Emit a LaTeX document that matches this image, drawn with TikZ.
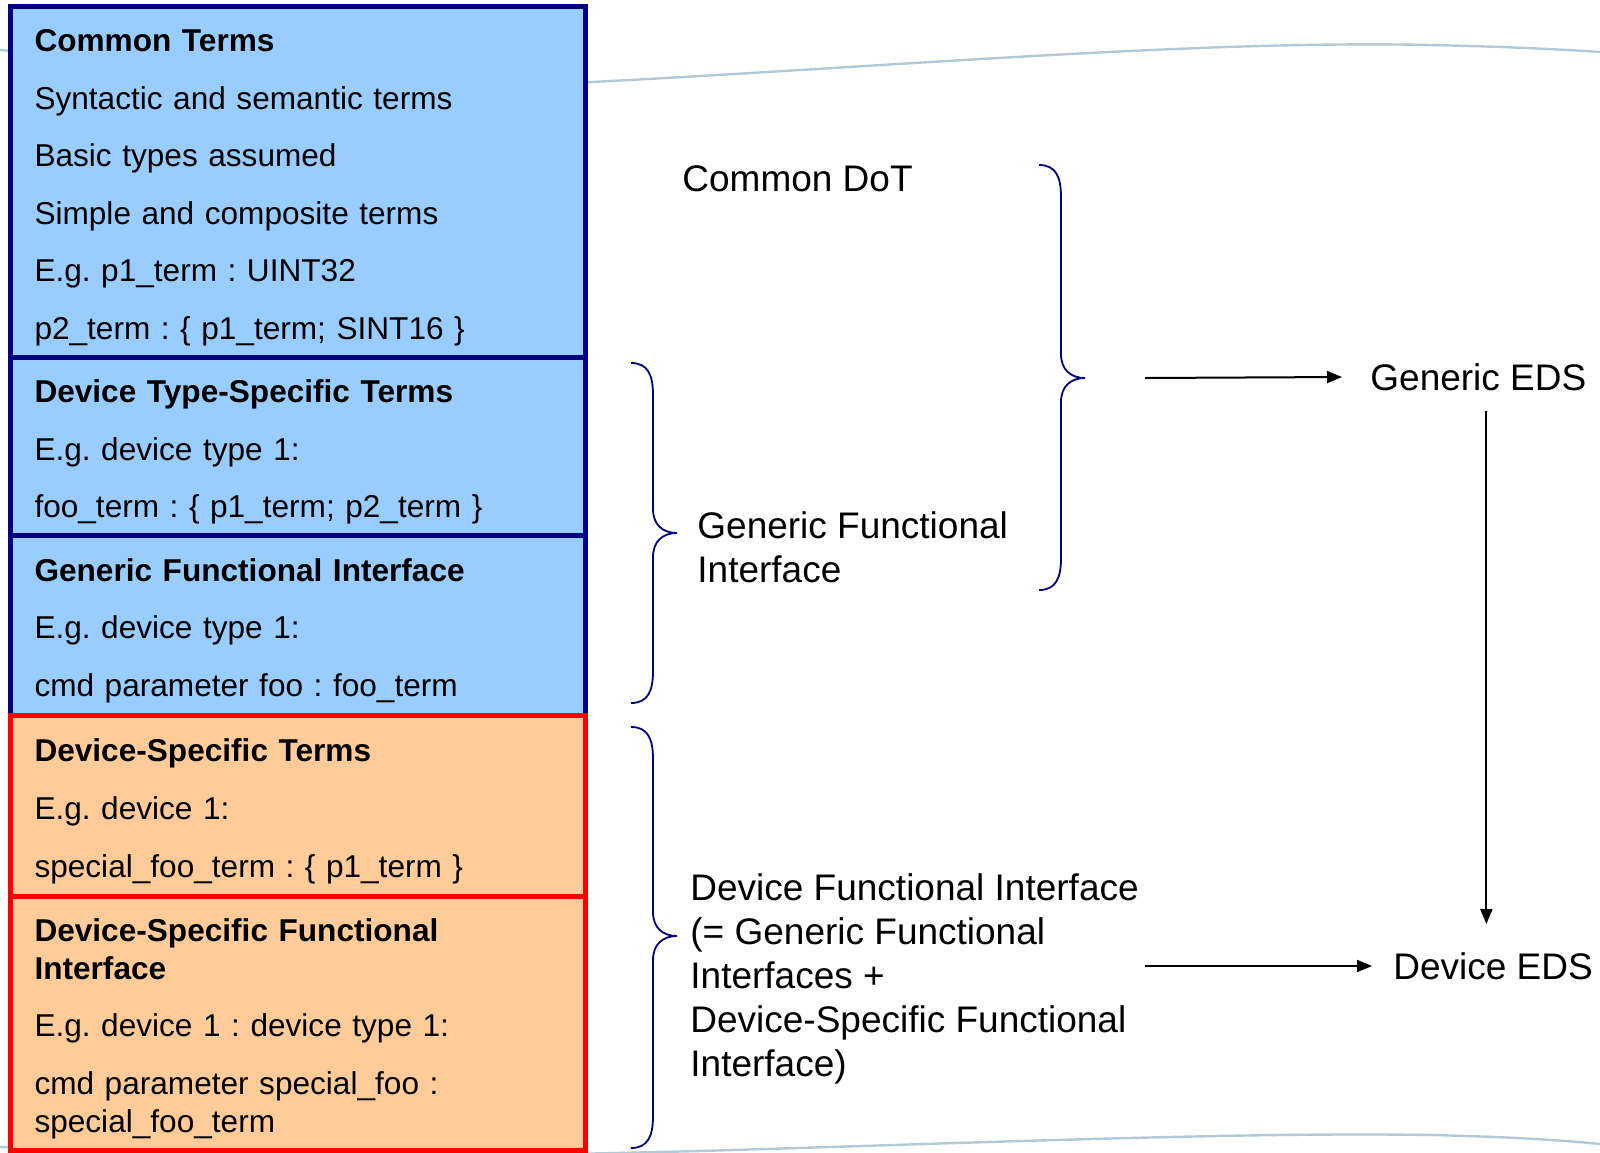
\documentclass[tikz,border=0pt]{standalone}
\usepackage{fontspec}
\setmainfont{Liberation Sans}
\usetikzlibrary{arrows.meta, positioning}
\definecolor{navyline}{HTML}{000080}
\definecolor{skyfill}{HTML}{99CCFF}
\definecolor{peachfill}{HTML}{FFCC99}
\definecolor{redline}{HTML}{FF0000}
\definecolor{waveline}{RGB}{178,202,216}
\newcommand{\termgap}{9.8pt}
% curly brace opening to the right: x of the ends, top, tip, bottom
\newcommand{\sidebrace}[4]{%
  \draw[bracestyle] (#1,#2) .. controls ({#1+17},#2) and ({#1+22},{#2+12}) .. ({#1+22},{#2+32})
    -- ({#1+22},{#3-24}) .. controls ({#1+22},{#3-8}) and ({#1+32},#3) .. ({#1+46},#3)
    .. controls ({#1+32},#3) and ({#1+22},{#3+8}) .. ({#1+22},{#3+24})
    -- ({#1+22},{#4-32}) .. controls ({#1+22},{#4-12}) and ({#1+17},#4) .. (#1,#4);}
\frenchspacing

\begin{document}
\begin{tikzpicture}[x=0.5pt, y=-0.5pt,
        termbox/.style={rectangle, draw=navyline, fill=skyfill, line width=2.5pt, outer sep=0pt, text width=263.5pt, inner xsep=12pt, inner ysep=0pt, align=left, font=\fontsize{15.8}{19}\selectfont, execute at begin node={\rule{0pt}{17pt}}},
        devbox/.style={termbox, draw=redline, fill=peachfill},
        sidetext/.style={inner sep=0pt, align=left, anchor=west, font=\fontsize{18.5}{22}\selectfont},
        eds/.style={inner xsep=14pt, inner ysep=10pt, anchor=west, font=\fontsize{18.5}{22}\selectfont},
        arrow/.style={-{Triangle[length=7.5pt, width=6pt]}, line width=1pt},
        bracestyle/.style={draw=navyline, line width=0.9pt}
    ]
        \useasboundingbox (0,0) rectangle (1600,1152);
        % slide background waves
        \draw[waveline, line width=1.2pt] (0,50) .. controls (250,70) and (420,90) .. (592,82) .. controls (900,66) and (1200,40) .. (1430,45) .. controls (1520,47) and (1570,50) .. (1600,52);
        \draw[waveline, line width=1.2pt] (0,1147) .. controls (300,1160) and (500,1156) .. (700,1151) .. controls (1000,1142) and (1250,1132) .. (1430,1135) .. controls (1520,1137) and (1570,1141) .. (1600,1144);

        \node[termbox, minimum height=175.75pt, anchor=north west] (common) at (10.5,6) {\textbf{Common Terms}\\[\termgap] Syntactic and semantic terms\\[\termgap] Basic types assumed\\[\termgap] Simple and composite terms\\[\termgap] E.g. p1\_term : UINT32\\[\termgap] p2\_term : \{ p1\_term; SINT16 \}};
        \node[termbox, minimum height=89pt, below=0pt of common] (typeterms) {\textbf{Device Type-Specific Terms}\\[\termgap] E.g. device type 1:\\[\termgap] foo\_term : \{ p1\_term; p2\_term \}};
        \node[termbox, minimum height=89.75pt, below=0pt of typeterms] (genfi) {\textbf{Generic Functional Interface}\\[\termgap] E.g. device type 1:\\[\termgap] cmd parameter foo : foo\_term};
        \node[devbox, minimum height=90.75pt, below=0pt of genfi] (devterms) {\textbf{Device-Specific Terms}\\[\termgap] E.g. device 1:\\[\termgap] special\_foo\_term : \{ p1\_term \}};
        \node[devbox, minimum height=126.75pt, below=0pt of devterms] (devfi) {\textbf{Device-Specific Functional}\\ \textbf{Interface}\\[\termgap] E.g. device 1 : device type 1:\\[\termgap] cmd parameter special\_foo :\\ special\_foo\_term};

        \sidebrace{1039}{165}{378}{590}
        \sidebrace{631}{363}{533}{703}
        \sidebrace{631}{727}{936}{1148}

        \node[sidetext] (dot) at (682,179) {Common DoT};
        \node[sidetext] (gfi) at (697,547) {Generic Functional\\Interface};
        \node[sidetext] (dfi) at (690,979) {Device Functional Interface\\(= Generic Functional\\Interfaces +\\Device-Specific Functional\\Interface)};

        \node[eds] (geds) at (1342,377) {Generic EDS};
        \node[eds] (deds) at (1365,966) {Device EDS};

        \coordinate (gstart) at (1145,378);
        \coordinate (dstart) at (1145,966);
        \coordinate (vtop) at ([xshift=4pt]geds.south);
        \draw[arrow] (gstart) -- (geds.west);
        \draw[arrow, shorten >=-3.5pt] (dstart) -- (deds.west);
        \draw[arrow, shorten >=4pt] (vtop) -- (vtop |- deds.north);
    \end{tikzpicture}
\end{document}
